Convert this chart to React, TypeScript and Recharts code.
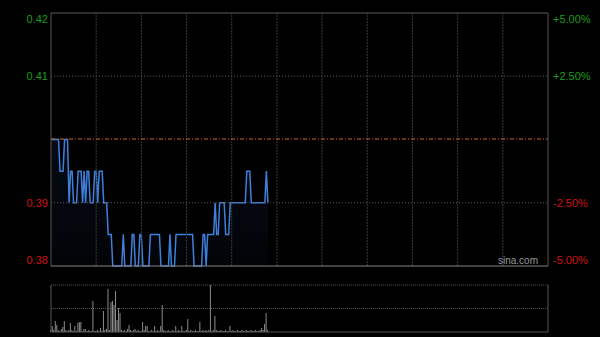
import { ComposedChart, Area, Line, BarChart, Bar, XAxis, YAxis, ReferenceLine } from 'recharts'

// HK session: 09:30-12:00 + 13:00-16:00 = 330 minutes
const sessionMinutes = 330
const gridMinutes = [30, 60, 90, 120, 150, 180, 210, 240, 270, 300]

const prevClose = 0.4
const priceTicks = [0.38, 0.39, 0.41, 0.42]
const pctTicks = [-5, -2.5, 2.5, 5]

// one value per minute from 09:30
const prices = [
  0.4, 0.4, 0.4, 0.4, 0.4, 0.4, 0.395, 0.395, 0.395, 0.4,
  0.4, 0.4, 0.39, 0.395, 0.395, 0.39, 0.39, 0.39, 0.395, 0.395,
  0.395, 0.39, 0.395, 0.39, 0.395, 0.395, 0.39, 0.39, 0.39, 0.395,
  0.395, 0.39, 0.395, 0.395, 0.395, 0.39, 0.39, 0.39, 0.385, 0.385,
  0.385, 0.38, 0.38, 0.38, 0.38, 0.38, 0.38, 0.38, 0.385, 0.38,
  0.38, 0.38, 0.38, 0.38, 0.385, 0.385, 0.38, 0.38, 0.38, 0.385,
  0.385, 0.38, 0.38, 0.38, 0.38, 0.38, 0.385, 0.385, 0.385, 0.385,
  0.385, 0.385, 0.385, 0.38, 0.38, 0.38, 0.38, 0.38, 0.38, 0.385,
  0.38, 0.38, 0.38, 0.385, 0.385, 0.385, 0.385, 0.385, 0.385, 0.385,
  0.385, 0.385, 0.385, 0.385, 0.385, 0.38, 0.38, 0.38, 0.38, 0.38,
  0.38, 0.385, 0.385, 0.38, 0.385, 0.385, 0.385, 0.385, 0.385, 0.39,
  0.385, 0.385, 0.39, 0.39, 0.39, 0.39, 0.385, 0.385, 0.385, 0.39,
  0.39, 0.39, 0.39, 0.39, 0.39, 0.39, 0.39, 0.39, 0.39, 0.39,
  0.395, 0.395, 0.395, 0.39, 0.39, 0.39, 0.39, 0.39, 0.39, 0.39,
  0.39, 0.39, 0.39, 0.395, 0.39,
]

// shares traded per minute
const volumes = [
  20000, 60000, 20000, 110000, 70000, 20000, 10000, 30000, 50000, 110000,
  20000, 10000, 20000, 90000, 20000, 10000, 60000, 10000, 90000, 100000,
  100000, 10000, 30000, 30000, 10000, 20000, 10000, 10000, 310000, 10000,
  10000, 20000, 10000, 40000, 10000, 210000, 20000, 30000, 430000, 20000,
  300000, 310000, 270000, 410000, 120000, 240000, 190000, 20000, 10000, 20000,
  10000, 30000, 70000, 20000, 10000, 20000, 30000, 10000, 20000, 10000,
  10000, 100000, 20000, 60000, 60000, 10000, 10000, 20000, 10000, 60000,
  10000, 20000, 10000, 60000, 270000, 20000, 10000, 10000, 20000, 10000,
  10000, 20000, 10000, 60000, 10000, 20000, 10000, 60000, 10000, 10000,
  20000, 130000, 10000, 20000, 10000, 10000, 20000, 10000, 10000, 100000,
  10000, 20000, 10000, 20000, 10000, 20000, 470000, 10000, 20000, 160000,
  20000, 10000, 10000, 20000, 10000, 10000, 20000, 10000, 10000, 60000,
  10000, 20000, 10000, 10000, 20000, 10000, 10000, 20000, 10000, 10000,
  20000, 10000, 10000, 20000, 10000, 10000, 20000, 10000, 10000, 20000,
  40000, 20000, 80000, 190000, 20000,
]

const data = prices.map((p, i) => ({
  t: i,
  price: p,
  pct: ((p - prevClose) / prevClose) * 100,
  vol: volumes[i],
}))
const volMax = Math.max(...volumes)

const GREEN = '#1c9c1c'
const RED = '#d01212'
const FONT = 'Arial, "Liberation Sans", sans-serif'

// top and bottom labels are pulled inside the frame
function labelShift(v: number, lo: number, hi: number) {
  if (v === hi) return 6
  if (v === lo) return -6
  return 0
}

function PriceTick({ x, y, payload }: any) {
  const v = payload.value as number
  return (
    <text x={x} y={y + labelShift(v, 0.38, 0.42)} dy="0.35em" textAnchor="end" fontSize={11}
      fontFamily={FONT} fill={v > prevClose ? GREEN : RED}>
      {v.toFixed(2)}
    </text>
  )
}

function PctTick({ x, y, payload }: any) {
  const v = payload.value as number
  return (
    <text x={x} y={y + labelShift(v, -5, 5)} dy="0.35em" textAnchor="start" fontSize={11}
      fontFamily={FONT} fill={v > 0 ? GREEN : RED}>
      {(v > 0 ? '+' : '') + v.toFixed(2) + '%'}
    </text>
  )
}

// previous close: brown dash-dot line
function PrevCloseLine(p: any) {
  return (
    <line x1={p.x1} y1={Math.round(p.y1)} x2={p.x2} y2={Math.round(p.y2)} stroke="#d2691e"
      strokeWidth={1.2} strokeDasharray="4 2 1 2" fill="none" />
  )
}

export default function App() {
  return (
    <div style={{ position: 'absolute', left: 0, top: 0, width: 600, height: 337, background: '#000', overflow: 'hidden' }}>
      <div style={{ position: 'absolute', left: 0, top: 0 }}>
        <ComposedChart width={600} height={280} data={data} margin={{ top: 13, right: 0, bottom: 14, left: 0 }}>
          <defs>
            <linearGradient id="priceFill" x1="0" y1="0" x2="0" y2="1">
              <stop offset="0%" stopColor="#28509a" stopOpacity={0.22} />
              <stop offset="100%" stopColor="#28509a" stopOpacity={0.08} />
            </linearGradient>
          </defs>
          <XAxis dataKey="t" type="number" domain={[0, sessionMinutes]} hide />
          <YAxis yAxisId="price" orientation="left" width={51} domain={[0.38, 0.42]} ticks={priceTicks}
            axisLine={false} tickLine={false} tickSize={3} tickMargin={0} tick={<PriceTick />} />
          <YAxis yAxisId="pct" orientation="right" width={52} domain={[-5, 5]} ticks={pctTicks}
            axisLine={false} tickLine={false} tickSize={3} tickMargin={2} tick={<PctTick />} />

          {gridMinutes.map((m) => (
            <ReferenceLine key={m} yAxisId="price" x={m} stroke="#3a3a3a" strokeDasharray="2 1" />
          ))}
          <ReferenceLine yAxisId="price" y={0.41} stroke="#5a5a5a" strokeDasharray="1 2" />
          <ReferenceLine yAxisId="price" y={0.39} stroke="#5a5a5a" strokeDasharray="1 2" />
          <ReferenceLine yAxisId="price" y={prevClose} shape={PrevCloseLine} />

          <Area yAxisId="price" type="linear" dataKey="price" stroke="#3f7fdc" strokeWidth={1.5}
            fill="url(#priceFill)" isAnimationActive={false} dot={false} activeDot={false} />
          <Line yAxisId="pct" type="linear" dataKey="pct" stroke="none" dot={false} activeDot={false}
            isAnimationActive={false} />

          <ReferenceLine yAxisId="price" x={0} stroke="#555" />
          <ReferenceLine yAxisId="price" x={sessionMinutes} stroke="#555" />
          <ReferenceLine yAxisId="price" y={0.42} stroke="#5c5c5c" />
          <ReferenceLine yAxisId="price" y={0.38} stroke="#858585" />
        </ComposedChart>
      </div>

      <div style={{ position: 'absolute', left: 498, top: 255, color: '#9a9a9a', fontSize: 10, fontFamily: FONT }}>
        sina.com
      </div>

      <div style={{ position: 'absolute', left: 0, top: 280 }}>
        <BarChart width={600} height={57} data={data} margin={{ top: 5, right: 52, bottom: 5, left: 51 }}>
          <XAxis dataKey="t" type="number" domain={[0, sessionMinutes]} hide />
          <YAxis domain={[0, volMax]} hide />
          <ReferenceLine y={volMax} stroke="#555" strokeDasharray="1 1" />
          <ReferenceLine y={volMax / 2} stroke="#555" strokeDasharray="1 1" />
          <Bar dataKey="vol" fill="#8c8c8c" barSize={1} isAnimationActive={false} />
          <ReferenceLine y={0} stroke="#555" />
          <ReferenceLine x={0} stroke="#555" />
          <ReferenceLine x={sessionMinutes} stroke="#555" />
        </BarChart>
      </div>
    </div>
  )
}
